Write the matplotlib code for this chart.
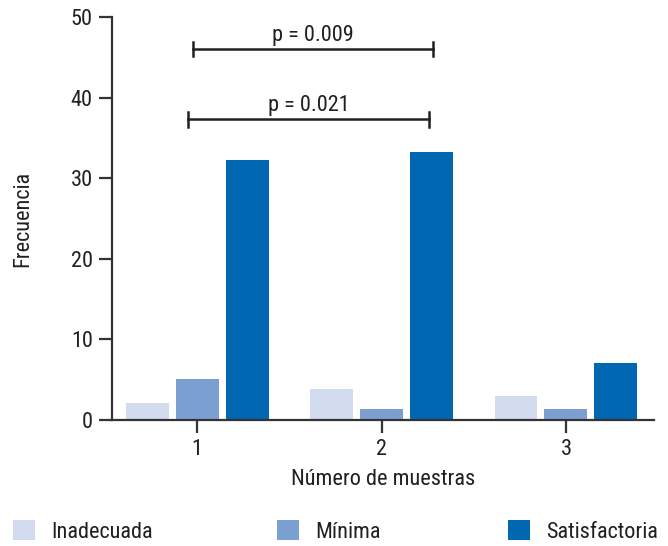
import matplotlib
matplotlib.use("Agg")
import matplotlib.pyplot as plt
from matplotlib.patches import Patch
import numpy as np

# Data
groups = [1, 2, 3]
series_names = ["Inadecuada", "Mínima", "Satisfactoria"]
inadecuada = [2.1, 3.8, 3.0]
minima = [5.1, 1.4, 1.4]
satisfactoria = [32.3, 33.2, 7.1]
colors = ["#D3DCEE", "#7C9FD2", "#0067B2"]
yticks = [0, 10, 20, 30, 40, 50]
comparisons = [("p = 0.009", 0.978, 2.279, 46.0), ("p = 0.021", 0.951, 2.257, 37.3)]

plt.rcParams["font.family"] = ["Roboto Condensed", "Liberation Sans", "DejaVu Sans"]
FS = 16
TXT = "#231F20"

fig = plt.figure(figsize=(6.68, 5.46), dpi=100)
ax = fig.add_axes([0.1677, 0.2308, 0.979 - 0.1677, 0.9689 - 0.2308])

x = np.array(groups, dtype=float)
offset = 0.271
width = 0.233
for i, (vals, c) in enumerate(zip([inadecuada, minima, satisfactoria], colors)):
    ax.bar(x + (i - 1) * offset, vals, width=width, color=c, label=series_names[i], zorder=2)

ax.set_xlim(0.539, 3.477)
ax.set_ylim(0, 50)
ax.set_xticks(groups)
ax.set_yticks(yticks)

for side in ["top", "right"]:
    ax.spines[side].set_visible(False)
for side in ["left", "bottom"]:
    ax.spines[side].set_color("#333333")
    ax.spines[side].set_linewidth(1.6)
ax.tick_params(axis="both", direction="out", length=9.4, width=1.6, color="#333333",
               labelsize=FS, labelcolor=TXT, pad=4.5)

ax.set_ylabel("Frecuencia", fontsize=FS, color=TXT, labelpad=0)
ax.yaxis.set_label_coords(-0.145, 0.5)
ax.set_xlabel("Número de muestras", fontsize=FS, color=TXT, labelpad=6)

# Significance brackets
for label, x0, x1, yb in comparisons:
    ax.plot([x0, x1], [yb, yb], color="#231F20", lw=1.8, clip_on=False, zorder=3)
    for xe in (x0, x1):
        ax.plot([xe, xe], [yb - 0.9, yb + 0.9], color="#231F20", lw=1.8,
                clip_on=False, zorder=3)
    ax.text((x0 + x1) / 2, yb + 0.4, label, ha="center", va="bottom",
            fontsize=FS, color=TXT)

# Legend spread across the bottom
legend_x = [13 / 668, 277 / 668, 508 / 668]
for name, c, lx in zip(series_names, colors, legend_x):
    fig.legend(handles=[Patch(facecolor=c, edgecolor="none")], labels=[name],
               loc="lower left", bbox_to_anchor=(lx, 0.006), frameon=False,
               borderpad=0, borderaxespad=0,
               handlelength=1.0, handleheight=1.0, handletextpad=0.7,
               fontsize=FS, labelcolor=TXT)

fig.savefig("out.png", dpi=100)
